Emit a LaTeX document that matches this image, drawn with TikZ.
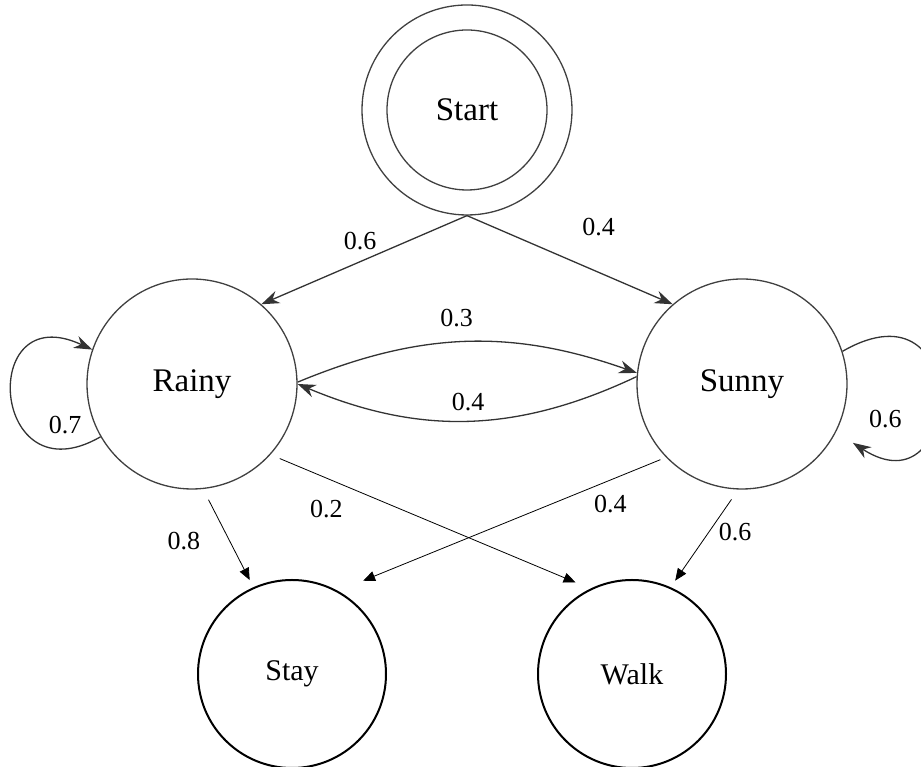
\documentclass[tikz,border=0pt]{standalone}
\usepackage{fontspec}
\setmainfont{Liberation Serif}
\usetikzlibrary{arrows.meta}

\tikzset{
  weather/.style={circle, draw=black!75, line width=1.3pt, minimum size=210pt,
    font=\fontsize{33}{40}\selectfont},
  activity/.style={circle, draw=black, line width=2pt, minimum size=188pt,
    font=\fontsize{30}{36}\selectfont},
  trans/.style={draw=black!80, line width=1.3pt, -{Stealth[length=18pt,width=13pt]}},
  emit/.style={draw=black, line width=0.8pt, -{Triangle[length=12pt,width=10pt]}},
  prob/.style={font=\fontsize{26}{30}\selectfont, inner sep=0pt}
}

\begin{document}
\begin{tikzpicture}[x=1pt, y=1pt]
  \useasboundingbox (0,0) rectangle (921,767);

  % hidden states
  \node[weather] (start) at (467,657) {Start};
  \draw[black!75, line width=1.3pt] (start.center) circle (80pt);
  \node[weather] (rainy) at (192,383) {Rainy};
  \node[weather] (sunny) at (742,383) {Sunny};

  % observations
  \node[activity] (stay) at (292,93) {Stay};
  \node[activity] (walk) at (632,93) {Walk};

  % start probabilities
  \draw[trans] (start.south) -- (rainy.49) node[prob, pos=0.52, above=11pt] {0.6};
  \draw[trans] (start.south) -- (sunny.131) node[prob, pos=0.64, above=36pt] {0.4};

  % transitions
  \draw[trans] (rainy.1) to[bend left=21] node[prob, pos=0.47, above=15pt] {0.3} (sunny.174);
  \draw[trans] (sunny.176) to[bend left=24] node[prob, midway, above=9pt] {0.4} (rainy.0);
  \draw[trans] (rainy.210) to[out=210, in=155, looseness=3.7]
    node[prob, pos=0.12, above=14pt] {0.7} (rainy.161);
  \draw[trans, shorten >=20pt] (sunny.18) to[out=30, in=-33, looseness=4.8]
    node[prob, pos=0.85, above=21pt] {0.6} (sunny.-27);

  % emissions
  \draw[emit, shorten <=12pt, shorten >=8pt] (rainy.-84) -- (stay.114)
    node[prob, pos=0.525, left=29pt] {0.8};
  \draw[emit, shorten <=10pt, shorten >=16pt] (rainy.-42.5) -- (walk.116)
    node[prob, pos=0.175, below=22pt] {0.2};
  \draw[emit, shorten <=6pt, shorten >=27pt] (sunny.-136) -- (stay.61)
    node[prob, pos=0.17, below=15pt] {0.4};
  \draw[emit, shorten <=12pt, shorten >=8pt] (sunny.-92) -- (walk.66)
    node[prob, pos=0.44, right=10pt] {0.6};
\end{tikzpicture}
\end{document}
